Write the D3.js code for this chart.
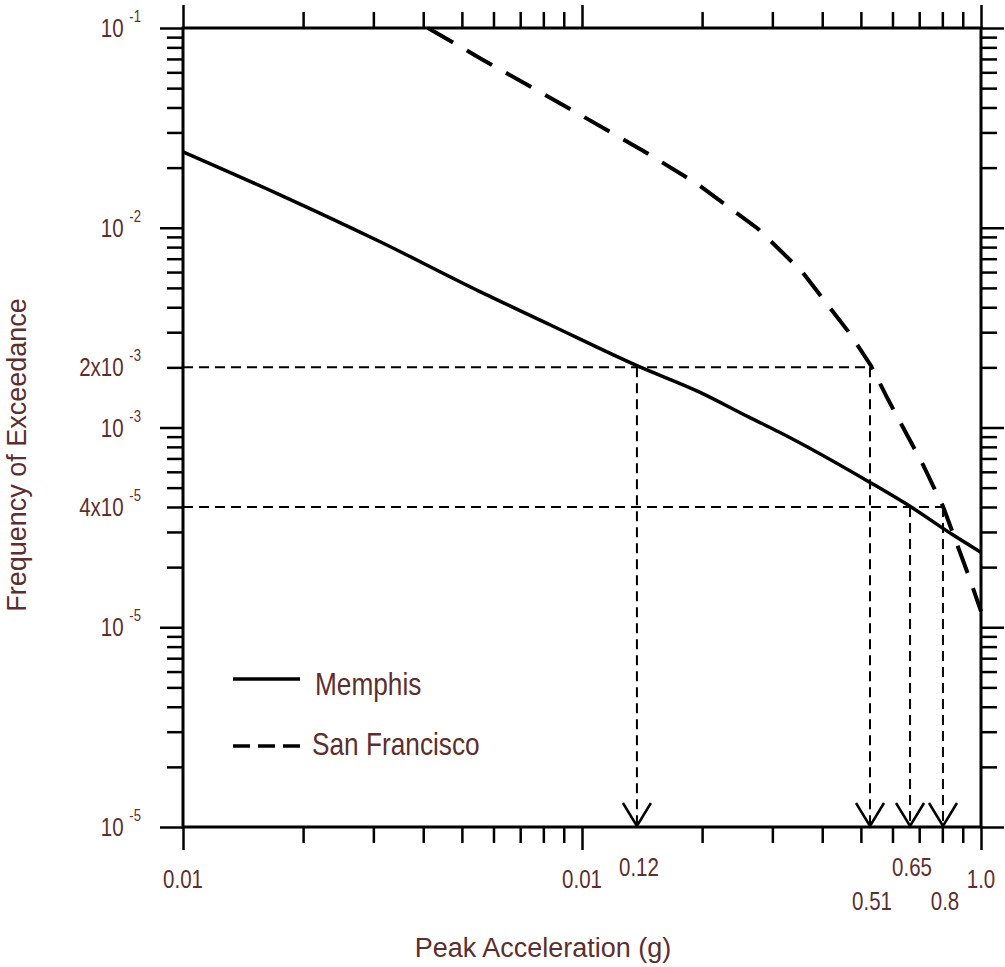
<!DOCTYPE html>
<meta charset="utf-8">
<title>Peak Acceleration Hazard Curves</title>
<style>
body { margin: 0; background: #fff; }
text { fill: #5c2e2e; font-family: "Liberation Sans", Arial, sans-serif; }
.title { font-size: 27px; }
.tick-label { font-size: 25px; }
.legend text { font-size: 32px; }
.axis line { stroke: #000; stroke-width: 2.5; }
.frame { fill: none; stroke: #000; stroke-width: 3; }
</style>
<svg width="1005" height="967"></svg>
<script src="https://cdn.jsdelivr.net/npm/d3@7"></script>
<script>

// Memphis hazard curve (peak acceleration g, annual frequency of exceedance)
var memphisX = [0.01, 0.0175, 0.0312, 0.0555, 0.0831, 0.1373, 0.1976, 0.2637, 0.3135, 0.527, 0.664, 0.846, 1.0];
var memphisY = [0.0240, 0.01462, 0.00851, 0.00479, 0.00327, 0.00204, 0.00150, 0.00112, 0.000944, 0.000531, 0.000403, 0.000292, 0.000237];

// San Francisco hazard curve
var sfX = [0.0411, 0.0565, 0.0896, 0.1422, 0.1942, 0.276, 0.356, 0.467, 0.530, 0.585, 0.715, 0.803, 0.938, 1.0];
var sfY = [0.1, 0.0692, 0.0412, 0.0243, 0.0166, 0.00989, 0.00603, 0.00299, 0.00204, 0.00138, 0.000653, 0.000403, 0.000174, 0.000120];

// y tick labels, as printed on the figure
var yLabelValues = [1e-1, 1e-2, 2e-3, 1e-3, 4e-4, 1e-4, 1e-5];
var yLabelBase = ["10", "10", "2x10", "10", "4x10", "10", "10"];
var yLabelExp = ["-1", "-2", "-3", "-3", "-5", "-5", "-5"];

// x tick labels, as printed on the figure
var xLabelValues = [0.01, 0.1, 1];
var xLabelText = ["0.01", "0.01", "1.0"];

// read-off levels and the accelerations they give
var levelY = [2e-3, 4e-4];
var levelEndX = [0.530, 0.803];
var markerX = [0.1373, 0.527, 0.664, 0.803];
var markerY = [2e-3, 2e-3, 4e-4, 4e-4];
var markerLabels = ["0.12", "0.51", "0.65", "0.8"];
var markerRow = [0, 1, 0, 1];

var svg = d3.select("svg");

var x = d3.scaleLog().domain([0.01, 1]).range([183, 981]),
    y = d3.scaleLog().domain([1e-5, 1e-1]).range([827, 28]);

// the figure's lettering is condensed
var squeeze = 0.82;
function at(px, py) { return "translate(" + px + "," + py + ") scale(" + squeeze + ",1)"; }

var isMajor = function(v) { return Math.abs(Math.log10(v) - Math.round(Math.log10(v))) < 1e-6; };
var xMinor = x.ticks().filter(function(d) { return !isMajor(d); }),
    xMajor = x.ticks().filter(isMajor),
    yMinor = y.ticks().filter(function(d) { return !isMajor(d); }),
    yMajor = y.ticks().filter(isMajor);

function addAxis(axisFn, scale, values, size, tx, ty) {
  svg.append("g")
      .attr("class", "axis")
      .attr("transform", "translate(" + tx + "," + ty + ")")
      .call(axisFn(scale).tickValues(values).tickSize(size).tickSizeOuter(0).tickFormat(""))
      .call(function(g) { g.select(".domain").remove(); });
}

addAxis(d3.axisBottom, x, xMinor, 16, 0, 827);
addAxis(d3.axisBottom, x, xMajor, 23, 0, 827);
addAxis(d3.axisTop, x, xMinor, 16, 0, 28);
addAxis(d3.axisTop, x, xMajor, 23, 0, 28);
addAxis(d3.axisLeft, y, yMinor, 16, 183, 0);
addAxis(d3.axisLeft, y, yMajor, 23, 183, 0);
addAxis(d3.axisRight, y, yMinor, 16, 981, 0);
addAxis(d3.axisRight, y, yMajor, 23, 981, 0);

svg.append("rect")
    .attr("class", "frame")
    .attr("x", x(0.01))
    .attr("y", y(1e-1))
    .attr("width", x(1) - x(0.01))
    .attr("height", y(1e-5) - y(1e-1));

// y tick labels
var yl = svg.append("g").selectAll("text")
    .data(yLabelValues)
  .enter().append("text")
    .attr("class", "tick-label")
    .attr("text-anchor", "end")
    .attr("transform", function(d) { return at(141, y(d) + 9); });
yl.append("tspan").text(function(d, i) { return yLabelBase[i]; });
yl.append("tspan")
    .attr("dx", 7)
    .attr("dy", -15)
    .style("font-size", "16px")
    .text(function(d, i) { return yLabelExp[i]; });

// x tick labels
svg.append("g").selectAll("text")
    .data(xLabelValues)
  .enter().append("text")
    .attr("class", "tick-label")
    .attr("text-anchor", "middle")
    .attr("transform", function(d) { return at(x(d), 888); })
    .text(function(d, i) { return xLabelText[i]; });

// reference lines
var ref = svg.append("g")
    .attr("fill", "none")
    .attr("stroke", "#000")
    .attr("stroke-width", 2)
    .attr("stroke-dasharray", "10,6");

ref.selectAll(".h")
    .data(levelY)
  .enter().append("line")
    .attr("x1", x(0.01))
    .attr("x2", function(d, i) { return x(levelEndX[i]); })
    .attr("y1", function(d) { return y(d); })
    .attr("y2", function(d) { return y(d); });

ref.selectAll(".v")
    .data(markerX)
  .enter().append("line")
    .attr("x1", function(d) { return x(d); })
    .attr("x2", function(d) { return x(d); })
    .attr("y1", function(d, i) { return y(markerY[i]); })
    .attr("y2", y(1e-5));

// arrow heads
svg.append("g").selectAll("path")
    .data(markerX)
  .enter().append("path")
    .attr("fill", "none")
    .attr("stroke", "#000")
    .attr("stroke-width", 2.5)
    .attr("d", function(d) {
      var px = x(d), py = y(1e-5);
      return "M" + (px - 14) + "," + (py - 24) + "L" + px + "," + (py - 1) + "L" + (px + 14) + "," + (py - 24);
    });

svg.append("g").selectAll("text")
    .data(markerX)
  .enter().append("text")
    .attr("class", "tick-label")
    .attr("text-anchor", "middle")
    .attr("transform", function(d, i) { return at(x(d) + 2, markerRow[i] ? 910 : 876); })
    .text(function(d, i) { return markerLabels[i]; });

// curves
var smooth = d3.line()
    .x(function(d) { return x(d[0]); })
    .y(function(d) { return y(d[1]); })
    .curve(d3.curveMonotoneX);

var straight = d3.line()
    .x(function(d) { return x(d[0]); })
    .y(function(d) { return y(d[1]); });

svg.append("path")
    .datum(d3.zip(memphisX, memphisY))
    .attr("fill", "none")
    .attr("stroke", "#000")
    .attr("stroke-width", 3.5)
    .attr("d", smooth);

svg.append("path")
    .datum(d3.zip(sfX, sfY))
    .attr("fill", "none")
    .attr("stroke", "#000")
    .attr("stroke-width", 4)
    .attr("stroke-dasharray", "29,16")
    .attr("d", straight);

// legend
var legend = svg.append("g").attr("class", "legend");
legend.append("line")
    .attr("x1", 233).attr("x2", 300).attr("y1", 679).attr("y2", 679)
    .attr("stroke", "#000").attr("stroke-width", 3.5);
legend.append("text").attr("transform", at(315, 695)).text("Memphis");
legend.append("line")
    .attr("x1", 233).attr("x2", 300).attr("y1", 746).attr("y2", 746)
    .attr("stroke", "#000").attr("stroke-width", 3.5)
    .attr("stroke-dasharray", "17,8");
legend.append("text").attr("transform", at(312, 755)).text("San Francisco");

// axis titles
svg.append("text")
    .attr("class", "title")
    .attr("text-anchor", "middle")
    .attr("x", 543)
    .attr("y", 957)
    .text("Peak Acceleration (g)");

svg.append("text")
    .attr("class", "title")
    .attr("text-anchor", "middle")
    .attr("transform", "translate(26,455) rotate(-90)")
    .text("Frequency of Exceedance");

</script>
